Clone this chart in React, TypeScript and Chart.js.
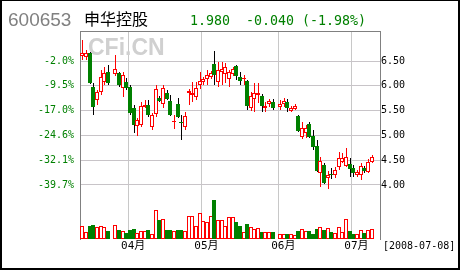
import React, { useEffect, useRef } from 'react';
import { Chart, registerables } from 'chart.js';
Chart.register(...registerables);

// Daily slots (null = no trading)
const openP: (number | null)[] = [
  6.60, 6.58, 6.66, 5.98, 5.71, 5.88, 6.08, 6.28, null, 6.24,
  6.26, 5.96, 6.08, 5.98, 5.55, 5.19, 5.21, 5.57, 5.61, 5.17,
  5.43, 5.75, 5.63, 5.85, 5.69, 5.28, 5.63, 5.28, 5.17, 5.85,
  5.81, 5.77, 6.02, 6.08, 6.14, 6.18, 6.44, 6.08, 6.28, 6.24,
  6.14, 6.24, 6.40, 6.18, 6.13, 6.10, 5.55, 5.73, 5.81, 5.79,
  5.55, 5.63, 5.67, null, 5.57, 5.63, 5.67, 5.49, 5.53, 5.39,
  4.97, 5.05, 5.23, 4.99, 4.79, 4.24, 4.40, 4.14, 4.22, 4.20,
  4.36, 4.46, 4.38, 4.42, 4.34, 4.20, 4.20, 4.34, 4.26, 4.46,
];
const highP: (number | null)[] = [
  6.92, 6.72, 6.68, 6.06, 5.92, 6.32, 6.38, 6.42, null, 6.62,
  6.28, 6.28, 6.16, 6.02, 5.61, 5.35, 5.67, 5.71, 5.71, 5.45,
  6.02, 5.79, 6.02, 5.92, 5.81, 5.41, 5.75, 5.41, 5.47, 5.94,
  6.08, 6.08, 6.28, 6.18, 6.32, 6.30, 6.70, 6.48, 6.48, 6.46,
  6.32, 6.38, 6.42, 6.28, 6.22, 6.12, 5.88, 6.06, 6.06, 5.83,
  5.67, 5.73, 5.73, null, 5.71, 5.75, 5.73, 5.59, 5.63, 5.41,
  5.27, 5.21, 5.27, 5.11, 4.91, 4.56, 4.44, 4.28, 4.34, 4.36,
  4.67, 4.65, 4.75, 4.54, 4.40, 4.30, 4.44, 4.38, 4.52, 4.60,
];
const lowP: (number | null)[] = [
  6.52, 6.52, 6.04, 5.41, 5.61, 5.81, 6.02, 6.02, null, 6.20,
  5.98, 5.77, 5.92, 5.41, 5.05, 4.99, 5.17, 5.55, 5.37, 5.11,
  5.37, 5.67, 5.55, 5.71, 5.39, 5.13, 5.35, 4.91, 5.11, 5.61,
  5.67, 5.71, 5.94, 6.02, 6.02, 6.14, 6.02, 5.98, 6.02, 6.06,
  5.98, 6.20, 6.12, 6.02, 6.02, 5.51, 5.49, 5.47, 5.65, 5.47,
  5.47, 5.57, 5.51, null, 5.51, 5.57, 5.47, 5.47, 5.51, 5.07,
  4.93, 4.95, 4.95, 4.71, 4.26, 3.96, 4.02, 3.92, 4.12, 4.14,
  4.30, 4.44, 4.36, 4.16, 4.16, 4.16, 4.10, 4.24, 4.24, 4.44,
];
const closeP: (number | null)[] = [
  6.66, 6.66, 6.06, 5.57, 5.88, 6.18, 6.26, 6.06, null, 6.34,
  6.02, 6.22, 5.96, 5.45, 5.21, 5.31, 5.59, 5.61, 5.41, 5.41,
  5.94, 5.69, 5.96, 5.73, 5.41, 5.30, 5.37, 5.26, 5.39, 5.90,
  5.85, 5.96, 6.10, 6.14, 6.22, 6.26, 6.22, 6.32, 6.34, 6.38,
  6.28, 6.34, 6.20, 6.10, 6.15, 5.59, 5.79, 5.85, 5.85, 5.59,
  5.59, 5.69, 5.55, null, 5.63, 5.69, 5.55, 5.55, 5.59, 5.09,
  5.15, 5.15, 4.97, 4.77, 4.28, 4.48, 4.04, 4.20, 4.20, 4.30,
  4.54, 4.54, 4.56, 4.32, 4.24, 4.26, 4.38, 4.28, 4.46, 4.56,
];
const volume: (number | null)[] = [
  1270, 700, 1270, 1430, 1200, 1270, 1200, 830, null, 1370,
  930, 770, 600, 930, 1000, 600, 830, 830, 930, 500,
  2930, 1870, 2000, 930, 930, 830, 930, 930, 830, 2330,
  2330, 1270, 2600, 1830, 1700, 2330, 3870, 1930, 1930, 1270,
  2200, 2200, 1670, 1330, 700, 1530, 1200, 1030, 1100, 700,
  670, 700, 670, null, 500, 500, 500, 500, 370, 830,
  1000, 850, 830, 500, 1000, 1200, 930, 1100, 700, 600,
  1200, 700, 2000, 830, 500, 500, 930, 600, 930, 1000,
];

const monthStartSlot = [13, 33, 54, 74];
const monthLabels = ['04月', '05月', '06月', '07月'];
const priceTicks = [4.0, 4.5, 5.0, 5.5, 6.0, 6.5];
const pctLabels = ['-39.7%', '-32.1%', '-24.6%', '-17.0%', '-9.5%', '-2.0%'];

const RED = '#ff0000';
const GREEN = '#008000';
const MONO = '"DejaVu Sans Mono", "Noto Sans CJK SC", monospace';

export default function App() {
  const ref = useRef<HTMLCanvasElement>(null);
  useEffect(() => {
    const canvas = ref.current!;
    const slots = openP.map((_, i) => i).filter((i) => openP[i] != null);
    const up = (i: number) => (closeP[i] as number) >= (openP[i] as number);

    const bodyData = slots.map((i) => {
      let a = Math.min(openP[i]!, closeP[i]!);
      let b = Math.max(openP[i]!, closeP[i]!);
      if (b - a < 0.015) { a -= 0.008; b += 0.008; }
      return { x: i, y: [a, b] };
    });
    const wickData = slots.map((i) => ({ x: i, y: [lowP[i]!, highP[i]!] }));
    const volData = slots.map((i) => ({ x: i, y: volume[i]! }));

    // snap library-computed bar elements to whole pixels for crisp candles
    const snap = {
      id: 'snap',
      afterDatasetsUpdate(chart: any) {
        chart.data.datasets.forEach((ds: any, d: number) => {
          const meta = chart.getDatasetMeta(d);
          meta.data.forEach((el: any) => {
            const cx = Math.round(el.x);
            el.x = ds.barThickness === 1 ? cx + 0.5 : cx;
            let y = Math.round(el.y);
            let b = Math.round(el.base);
            if (Math.abs(b - y) < 1) b = y + 1;
            el.y = y;
            el.base = b;
          });
        });
      },
    };

    const deco = {
      id: 'deco',
      beforeDraw(chart: any) {
        const c = chart.ctx;
        c.save();
        c.fillStyle = '#ffffff';
        c.fillRect(0, 0, chart.width, chart.height);
        c.restore();
      },
      beforeDatasetsDraw(chart: any) {
        const c = chart.ctx;
        const a = chart.chartArea;
        c.save();
        c.fillStyle = '#d0d0d0';
        c.font = 'bold 23px "Liberation Sans", Arial, sans-serif';
        c.textBaseline = 'alphabetic';
        c.fillText('CFi.CN', a.left + 8, a.top + 24);
        c.restore();
      },
      afterDraw(chart: any) {
        const c = chart.ctx;
        const a = chart.chartArea;
        c.save();
        c.strokeStyle = '#808080';
        c.lineWidth = 1;
        c.beginPath();
        c.moveTo(a.left, a.top + 0.5);
        c.lineTo(a.right + 1, a.top + 0.5);
        c.stroke();
        c.textBaseline = 'alphabetic';
        c.textAlign = 'left';
        c.fillStyle = '#808080';
        c.font = '19px "Liberation Sans", Arial, sans-serif';
        c.fillText('600653', 8, 26);
        c.fillStyle = '#000000';
        c.font = '16px "Noto Sans CJK SC", sans-serif';
        c.fillText('申华控股', 84, 25);
        c.fillStyle = GREEN;
        c.font = '13.3px "DejaVu Sans Mono", monospace';
        c.fillText('1.980  -0.040 (-1.98%)', 190, 25);
        c.fillStyle = '#000000';
        c.font = '10px "DejaVu Sans Mono", monospace';
        c.fillText('[2008-07-08]', 383, 249);
        c.fillStyle = '#000000';
        c.fillRect(0, 0, 460, 1);
        c.fillRect(0, 0, 2, 270);
        c.fillRect(458, 0, 2, 270);
        c.fillRect(0, 268, 460, 2);
        c.restore();
      },
    };

    const chart = new Chart(canvas, {
      type: 'bar',
      data: {
        datasets: [
          {
            label: 'body',
            data: bodyData as any,
            yAxisID: 'y',
            grouped: false,
            barThickness: 4,
            inflateAmount: 0,
            borderWidth: 1,
            borderSkipped: false,
            backgroundColor: slots.map((i) => (up(i) ? '#ffffff' : GREEN)),
            borderColor: slots.map((i) => (up(i) ? RED : GREEN)),
          } as any,
          {
            label: 'wick',
            data: wickData as any,
            yAxisID: 'y',
            grouped: false,
            barThickness: 1,
            inflateAmount: 0,
            borderWidth: 0,
            backgroundColor: slots.map((i) => (up(i) ? RED : '#000000')),
          } as any,
          {
            label: 'vol',
            data: volData as any,
            yAxisID: 'yv',
            grouped: false,
            barThickness: 4,
            inflateAmount: 0,
            borderWidth: 1,
            borderSkipped: false,
            backgroundColor: slots.map((i) => (up(i) ? '#ffffff' : GREEN)),
            borderColor: slots.map((i) => (up(i) ? RED : GREEN)),
          } as any,
        ],
      },
      options: {
        animation: false,
        responsive: false,
        devicePixelRatio: 1,
        events: [],
        layout: { padding: { top: 31, left: 0, right: 0, bottom: 0 } },
        plugins: { legend: { display: false }, tooltip: { enabled: false } },
        scales: {
          x: {
            type: 'linear',
            min: -0.68,
            max: 81.3,
            offset: false,
            afterBuildTicks: (s: any) => {
              s.ticks = monthStartSlot.map((v) => ({ value: v - 0.5 }));
            },
            afterFit: (s: any) => { s.height = 31; },
            grid: { color: '#c8c8c8', drawTicks: false, offset: false },
            border: { display: false },
            ticks: {
              autoSkip: false,
              maxRotation: 0,
              padding: 1,
              labelOffset: 5,
              color: '#000000',
              font: { family: MONO, size: 11 },
              callback: (v: any) => {
                const k = monthStartSlot.indexOf(Number(v) + 0.5);
                return k >= 0 ? monthLabels[k] : '';
              },
            },
          },
          yl: {
            type: 'linear',
            position: 'left',
            min: 2.911,
            max: 7.105,
            afterBuildTicks: (s: any) => { s.ticks = priceTicks.map((v) => ({ value: v })); },
            afterFit: (s: any) => { s.width = 80; },
            grid: { display: false, drawTicks: false },
            border: { display: true, color: '#808080' },
            ticks: {
              padding: 6,
              color: GREEN,
              font: { family: MONO, size: 10 },
              callback: (v: any) => {
                const k = priceTicks.indexOf(Number(v));
                return k >= 0 ? pctLabels[k] : '';
              },
            },
          },
          y: {
            type: 'linear',
            position: 'right',
            min: 2.911,
            max: 7.105,
            afterBuildTicks: (s: any) => { s.ticks = priceTicks.map((v) => ({ value: v })); },
            afterFit: (s: any) => { s.width = 80; },
            grid: { color: '#c8c4c8', drawTicks: false },
            border: { display: true, color: '#808080' },
            ticks: {
              padding: 1,
              color: '#000000',
              font: { family: MONO, size: 10 },
              callback: (v: any) => Number(v).toFixed(2),
            },
          },
          yv: {
            type: 'linear',
            position: 'right',
            display: false,
            min: 0,
            max: 20800,
          },
        },
      } as any,
      plugins: [snap, deco],
    });
    return () => chart.destroy();
  }, []);

  return (
    <div style={{ position: 'fixed', left: 0, top: 0, width: 460, height: 270, background: '#fff' }}>
      <canvas ref={ref} width={460} height={270} style={{ display: 'block', width: 460, height: 270 }} />
    </div>
  );
}
